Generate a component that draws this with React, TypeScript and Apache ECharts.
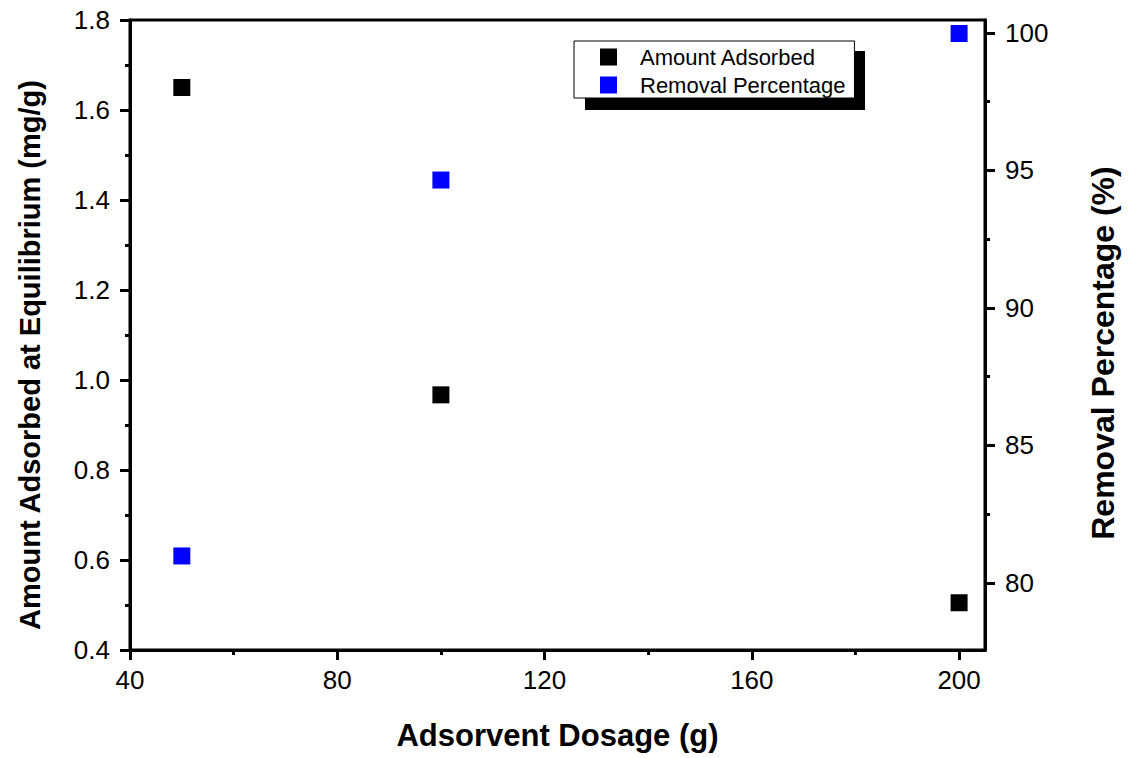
import React, { useEffect, useRef } from "react";
import * as echarts from "echarts";

const dosage = [50, 100, 200];
const amountAdsorbed = [1.65, 0.967, 0.505];
const removalPercentage = [80.98, 94.65, 99.98];
const xMajor = [40, 80, 120, 160, 200];
const xMinor = [60, 100, 140, 180];
const rMajor = [80, 85, 90, 95, 100];
const rMinor = [82.5, 87.5, 92.5, 97.5];

const FONT = "'Liberation Sans', Arial, sans-serif";

export default function App() {
  const ref = useRef<HTMLDivElement>(null);
  useEffect(() => {
    document.body.style.margin = "0";
    const chart = echarts.init(ref.current!, undefined, { renderer: "svg" });
    const axisLine = { show: true, lineStyle: { color: "#000", width: 3 } };
    const tickLabel = { color: "#000", fontSize: 26, fontFamily: FONT };
    const titleStyle = { color: "#000", fontWeight: "bold" as const, fontFamily: FONT };
    chart.setOption({
      animation: false,
      backgroundColor: "#fff",
      grid: { left: 130, right: 143, top: 20, bottom: 108, show: true, borderColor: "#000", borderWidth: 3, backgroundColor: "transparent" },
      xAxis: [
        {
          type: "value", min: 40, max: 205, position: "bottom",
          axisLine,
          axisTick: { show: true, customValues: xMajor, length: 10, lineStyle: { color: "#000", width: 3 } },
          axisLabel: { ...tickLabel, customValues: xMajor, margin: 17 },
          splitLine: { show: false },
          name: "Adsorvent Dosage (g)", nameLocation: "middle", nameGap: 70,
          nameTextStyle: { ...titleStyle, fontSize: 31 },
        },
        {
          type: "value", min: 40, max: 205, position: "bottom",
          axisLine: { show: false },
          axisTick: { show: true, customValues: xMinor, length: 5, lineStyle: { color: "#000", width: 3 } },
          axisLabel: { show: false },
          splitLine: { show: false },
        },
      ],
      yAxis: [
        {
          type: "value", min: 0.4, max: 1.8, interval: 0.2, position: "left",
          axisLine,
          axisTick: { show: true, length: 10, lineStyle: { color: "#000", width: 3 } },
          minorTick: { show: true, splitNumber: 2, length: 5, lineStyle: { color: "#000", width: 3 } },
          axisLabel: { ...tickLabel, margin: 20, formatter: (v: number) => v.toFixed(1) },
          splitLine: { show: false },
          name: "Amount Adsorbed at Equilibrium (mg/g)", nameLocation: "middle", nameGap: 86,
          nameTextStyle: { ...titleStyle, fontSize: 29, padding: [0, 40, 0, 0] },
        },
        {
          type: "value", min: 77.56, max: 100.47, position: "right",
          axisLine,
          axisTick: { show: true, customValues: rMajor, length: 10, lineStyle: { color: "#000", width: 3 } },
          axisLabel: { ...tickLabel, customValues: rMajor, margin: 20 },
          splitLine: { show: false },
          name: "Removal Percentage (%)", nameLocation: "middle", nameGap: 102, nameRotate: 90,
          nameTextStyle: { ...titleStyle, fontSize: 32, padding: [0, 36, 0, 0] },
        },
        {
          type: "value", min: 77.56, max: 100.47, position: "right",
          axisLine: { show: false },
          axisTick: { show: true, customValues: rMinor, length: 5, lineStyle: { color: "#000", width: 3 } },
          axisLabel: { show: false },
          splitLine: { show: false },
        },
      ],
      legend: {
        orient: "vertical", left: 574, top: 41,
        padding: [5, 9, 2, 26], itemGap: 6, itemWidth: 17, itemHeight: 17,
        backgroundColor: "#fff", borderColor: "#000", borderWidth: 1,
        icon: "rect",
        textStyle: { color: "#000", fontSize: 22, fontFamily: FONT, padding: [0, 0, 0, 18] },
        data: ["Amount Adsorbed", "Removal Percentage"],
      },
      graphic: [
        { type: "rect", left: 585, top: 51, shape: { width: 280, height: 59 }, style: { fill: "#000" }, z: 0 },
      ],
      series: [
        {
          name: "Amount Adsorbed", type: "scatter", xAxisIndex: 0, yAxisIndex: 0,
          symbol: "rect", symbolSize: 17, itemStyle: { color: "#000", opacity: 1 },
          data: dosage.map((d, i) => [d, amountAdsorbed[i]]),
        },
        {
          name: "Removal Percentage", type: "scatter", xAxisIndex: 0, yAxisIndex: 1,
          symbol: "rect", symbolSize: 17, itemStyle: { color: "#0000ff", opacity: 1 },
          data: dosage.map((d, i) => [d, removalPercentage[i]]),
        },
      ],
    });
    return () => chart.dispose();
  }, []);
  return <div ref={ref} style={{ width: 1128, height: 758 }} />;
}
